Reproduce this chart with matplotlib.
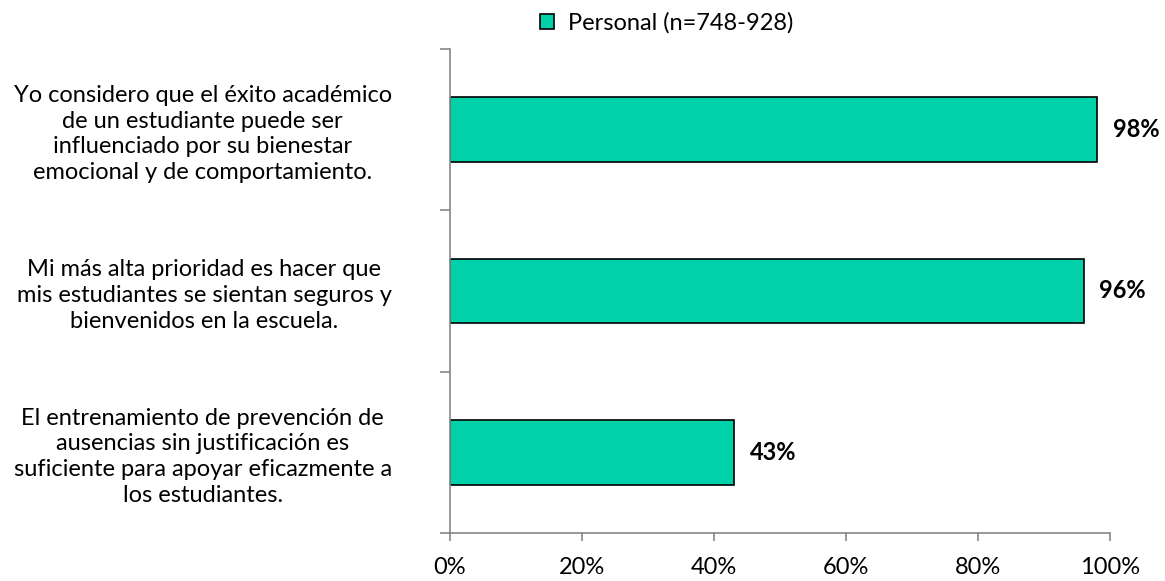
import matplotlib
matplotlib.use('Agg')
import matplotlib.pyplot as plt
import numpy as np

plt.rcParams['font.family'] = ['Lato', 'DejaVu Sans']

# data
statements = [
    'Yo considero que el éxito académico\nde un estudiante puede ser\ninfluenciado por su bienestar\nemocional y de comportamiento.',
    'Mi más alta prioridad es hacer que\nmis estudiantes se sientan seguros y\nbienvenidos en la escuela.',
    'El entrenamiento de prevención de\nausencias sin justificación es\nsuficiente para apoyar eficazmente a\nlos estudiantes.',
]
values = [98, 96, 43]
value_labels = ['98%', '96%', '43%']
series_name = 'Personal (n=748-928)'
xticks = [0, 20, 40, 60, 80, 100]

bar_color = '#00D1A9'
axis_color = '#868686'
fs = 17

fig = plt.figure(figsize=(11.65, 5.81), dpi=100)
ax = fig.add_axes([0.3863, 0.0826, 0.5665, 0.8331])

ypos = np.arange(len(statements))
ax.barh(ypos, values, height=0.4, color=bar_color, edgecolor='black', lw=1.2,
        label=series_name)
ax.set_ylim(len(statements) - 0.5, -0.5)
ax.set_xlim(0, 100)

for y, v, t in zip(ypos, values, value_labels):
    ax.text(v + 2.4, y, t, va='center', ha='left', fontsize=fs, fontweight='bold')

ax.set_yticks(ypos)
ax.set_yticklabels(statements, fontsize=fs, multialignment='center', linespacing=1.28)
ax.tick_params(axis='y', which='major', length=0, pad=42)
ax.set_yticks(np.arange(-0.5, len(statements)), minor=True)
ax.tick_params(axis='y', which='minor', length=7, color=axis_color, width=1.2)

ax.set_xticks(xticks)
ax.set_xticklabels([f'{x}%' for x in xticks], fontsize=fs)
ax.tick_params(axis='x', length=6, color=axis_color, width=1.2, pad=11)

for s in ['top', 'right']:
    ax.spines[s].set_visible(False)
for s in ['left', 'bottom']:
    ax.spines[s].set_color(axis_color)
    ax.spines[s].set_linewidth(1.2)

ax.legend(loc='lower center', bbox_to_anchor=(0.328, 1.0), frameon=False,
          fontsize=fs, handlelength=0.6, handleheight=0.6, handletextpad=0.6,
          borderaxespad=0.25)

plt.savefig('out.png', dpi=100)
